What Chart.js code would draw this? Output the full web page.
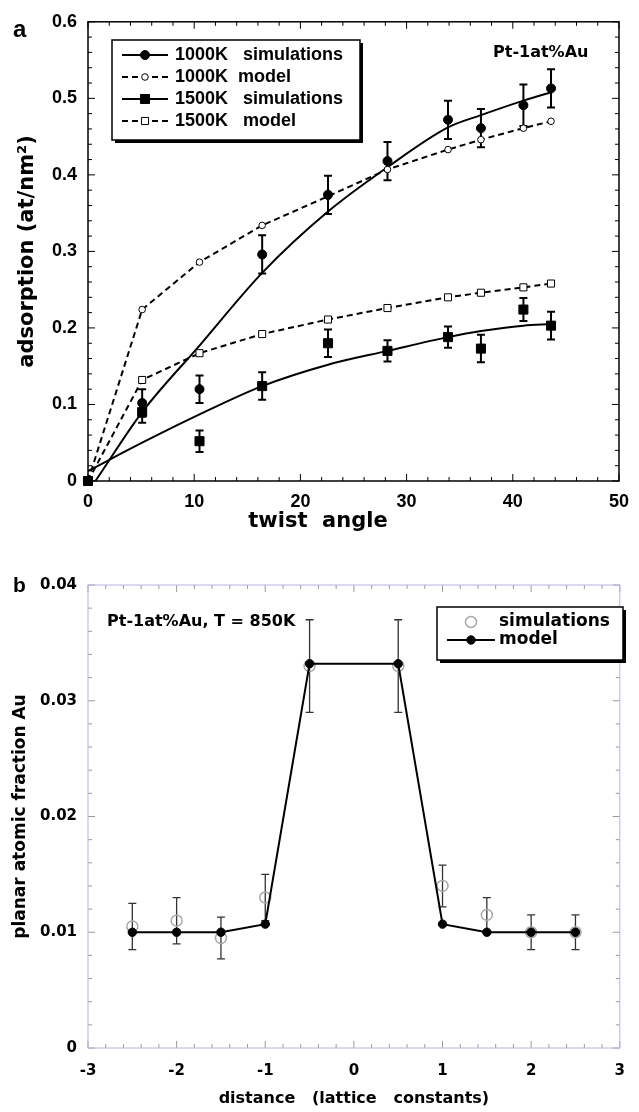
<!DOCTYPE html>
<html>
<head>
<meta charset="utf-8">
<script src="https://cdn.jsdelivr.net/npm/chart.js@4.4.1/dist/chart.umd.min.js"></script>
<style>
  body { margin: 0; background: #fff; }
  #wrapA { position: absolute; left: 0; top: 0; width: 639px; height: 540px; }
  #wrapB { position: absolute; left: 0; top: 540px; width: 639px; height: 572px; }
</style>
</head>
<body>
<div id="wrapA"><canvas id="chartA"></canvas></div>
<div id="wrapB"><canvas id="chartB"></canvas></div>
<script>
// panel a: adsorption vs twist angle
const twistAngles = [0, 5.1, 10.5, 16.4, 22.6, 28.2, 33.9, 37.0, 41.0, 43.6];
const sim1000 = [0, 0.102, 0.120, 0.296, 0.374, 0.418, 0.472, 0.461, 0.491, 0.513];
const sim1000Err = [0, 0.018, 0.018, 0.025, 0.025, 0.025, 0.025, 0.025, 0.027, 0.025];
const model1000 = [0, 0.224, 0.286, 0.334, 0.372, 0.407, 0.433, 0.446, 0.461, 0.470];
const sim1500 = [0, 0.090, 0.052, 0.124, 0.180, 0.170, 0.188, 0.173, 0.224, 0.203];
const sim1500Err = [0, 0.014, 0.014, 0.018, 0.018, 0.014, 0.014, 0.018, 0.015, 0.018];
const model1500 = [0, 0.132, 0.167, 0.192, 0.211, 0.226, 0.240, 0.246, 0.253, 0.258];
// smooth curves drawn through the simulations
const fit1000Angles = [0.7, 5.1, 10.5, 16.4, 22.6, 28.2, 33.9, 37.0, 41.0, 43.6];
const fit1000 = [0, 0.090, 0.177, 0.272, 0.352, 0.410, 0.462, 0.478, 0.497, 0.508];
const fit1500Angles = [0, 5.1, 10.5, 16.4, 22.6, 28.2, 33.9, 37.0, 41.0, 43.6];
const fit1500 = [0.013, 0.050, 0.087, 0.124, 0.152, 0.170, 0.188, 0.196, 0.203, 0.205];

// panel b: planar Au fraction vs distance
const distances = [-2.5, -2, -1.5, -1, -0.5, 0.5, 1, 1.5, 2, 2.5];
const simFraction = [0.0105, 0.0110, 0.0095, 0.0130, 0.0330, 0.0330, 0.0140, 0.0115, 0.0100, 0.0100];
const simFractionErr = [0.0020, 0.0020, 0.0018, 0.0020, 0.0040, 0.0040, 0.0018, 0.0015, 0.0015, 0.0015];
const modelFraction = [0.0100, 0.0100, 0.0100, 0.0107, 0.0332, 0.0332, 0.0107, 0.0100, 0.0100, 0.0100];

const pts = (xs, ys) => xs.map((x, i) => ({ x: x, y: ys[i] }));

const helv = (size) => ({ family: "'Liberation Sans'", size: size, weight: 'bold' });
const deja = (size) => ({ family: "'DejaVu Sans'", size: size, weight: 'bold' });

// vertical error bars with caps
const errorBars = {
    id: 'errorBars',
    beforeDatasetsDraw(chart, args, opts) {
        const { ctx, scales: { x, y } } = chart;
        ctx.save();
        ctx.strokeStyle = opts.color;
        ctx.lineWidth = opts.width;
        opts.sets.forEach(set => {
            chart.data.datasets[set.dataset].data.forEach((p, i) => {
                const e = set.errors[i];
                if (!e) return;
                const px = x.getPixelForValue(p.x);
                const top = y.getPixelForValue(p.y + e);
                const bot = y.getPixelForValue(p.y - e);
                ctx.beginPath();
                ctx.moveTo(px, top); ctx.lineTo(px, bot);
                ctx.moveTo(px - opts.cap, top); ctx.lineTo(px + opts.cap, top);
                ctx.moveTo(px - opts.cap, bot); ctx.lineTo(px + opts.cap, bot);
                ctx.stroke();
            });
        });
        ctx.restore();
    }
};

// box frame with inward ticks on all four sides
const frameTicks = {
    id: 'frameTicks',
    afterDatasetsDraw(chart, args, opts) {
        const { ctx, chartArea: a, scales: { x, y } } = chart;
        ctx.save();
        ctx.strokeStyle = opts.tickColor;
        ctx.lineWidth = 1;
        ctx.beginPath();
        let n = Math.round((x.max - x.min) / opts.xMinor);
        for (let i = 0; i <= n; i++) {
            const px = x.getPixelForValue(x.min + i * opts.xMinor);
            const len = i % opts.every === 0 ? opts.major : opts.minor;
            ctx.moveTo(px, a.bottom); ctx.lineTo(px, a.bottom - len);
            ctx.moveTo(px, a.top); ctx.lineTo(px, a.top + len);
        }
        n = Math.round((y.max - y.min) / opts.yMinor);
        for (let i = 0; i <= n; i++) {
            const py = y.getPixelForValue(y.min + i * opts.yMinor);
            const len = i % opts.every === 0 ? opts.major : opts.minor;
            ctx.moveTo(a.left, py); ctx.lineTo(a.left + len, py);
            ctx.moveTo(a.right, py); ctx.lineTo(a.right - len, py);
        }
        ctx.stroke();
        ctx.strokeStyle = opts.frameColor;
        ctx.lineWidth = opts.frameWidth;
        ctx.strokeRect(a.left, a.top, a.right - a.left, a.bottom - a.top);
        ctx.restore();
    }
};

// panel letters, labels and the boxed legend
const annotate = {
    id: 'annotate',
    afterDraw(chart, args, opts) {
        const ctx = chart.ctx;
        ctx.save();
        opts.texts.forEach(t => {
            ctx.fillStyle = '#000';
            ctx.font = t.font;
            ctx.textAlign = t.align || 'left';
            ctx.textBaseline = 'alphabetic';
            ctx.fillText(t.text, t.x, t.y);
        });
        const lg = opts.legend;
        ctx.fillStyle = '#000';
        ctx.fillRect(lg.left + lg.shadow, lg.top + lg.shadow, lg.width, lg.height);
        ctx.fillStyle = '#fff';
        ctx.fillRect(lg.left, lg.top, lg.width, lg.height);
        ctx.strokeStyle = '#000';
        ctx.lineWidth = 1.5;
        ctx.strokeRect(lg.left, lg.top, lg.width, lg.height);
        lg.items.forEach((it, i) => {
            const yy = lg.top + lg.firstRow + i * lg.rowStep;
            const ds = chart.data.datasets[it.dataset];
            if (it.line) {
                ctx.strokeStyle = '#000';
                ctx.lineWidth = 2;
                ctx.setLineDash(it.dash || []);
                ctx.beginPath();
                ctx.moveTo(lg.lineFrom, yy);
                ctx.lineTo(lg.lineTo, yy);
                ctx.stroke();
                ctx.setLineDash([]);
            }
            ctx.fillStyle = ds.backgroundColor;
            ctx.strokeStyle = ds.pointBorderColor;
            ctx.lineWidth = ds.pointBorderWidth;
            Chart.helpers.drawPoint(ctx, {
                pointStyle: ds.pointStyle, radius: ds.pointRadius,
                borderWidth: ds.pointBorderWidth, rotation: 0
            }, (lg.lineFrom + lg.lineTo) / 2, yy);
            ctx.fillStyle = '#000';
            ctx.font = lg.font;
            ctx.textAlign = 'left';
            ctx.textBaseline = 'middle';
            ctx.fillText(it.text, lg.textX, yy);
        });
        ctx.restore();
    }
};

Chart.defaults.color = '#000';

// Panel a
new Chart(document.getElementById('chartA'), {
    type: 'scatter',
    data: {
        datasets: [{
            label: '1000K simulations',
            data: pts(twistAngles, sim1000),
            pointStyle: 'circle', pointRadius: 4.5,
            backgroundColor: '#000', pointBorderColor: '#000', pointBorderWidth: 1,
            clip: false
        }, {
            label: '1500K simulations',
            data: pts(twistAngles, sim1500),
            pointStyle: 'rect', pointRadius: 6.4,
            backgroundColor: '#000', pointBorderColor: '#000', pointBorderWidth: 1,
            clip: false
        }, {
            label: '1000K model',
            data: pts(twistAngles, model1000),
            showLine: true, borderColor: '#000', borderWidth: 2, borderDash: [6, 4],
            pointStyle: 'circle', pointRadius: 3.3,
            backgroundColor: '#fff', pointBorderColor: '#000', pointBorderWidth: 1,
            clip: false
        }, {
            label: '1500K model',
            data: pts(twistAngles, model1500),
            showLine: true, borderColor: '#000', borderWidth: 2, borderDash: [6, 4],
            pointStyle: 'rect', pointRadius: 5,
            backgroundColor: '#fff', pointBorderColor: '#000', pointBorderWidth: 1,
            clip: false
        }, {
            label: '1000K fit',
            data: pts(fit1000Angles, fit1000),
            showLine: true, borderColor: '#000', borderWidth: 2,
            cubicInterpolationMode: 'monotone', pointRadius: 0,
            clip: false
        }, {
            label: '1500K fit',
            data: pts(fit1500Angles, fit1500),
            showLine: true, borderColor: '#000', borderWidth: 2,
            cubicInterpolationMode: 'monotone', pointRadius: 0,
            clip: false
        }]
    },
    options: {
        responsive: true,
        maintainAspectRatio: false,
        animation: false,
        events: [],
        layout: { padding: { top: 21, right: 11, left: 0, bottom: 0 } },
        plugins: {
            legend: { display: false },
            tooltip: { enabled: false },
            errorBars: {
                color: '#000', width: 2, cap: 4,
                sets: [{ dataset: 0, errors: sim1000Err }, { dataset: 1, errors: sim1500Err }]
            },
            frameTicks: {
                xMinor: 2, yMinor: 0.02, every: 5, major: 7, minor: 4,
                tickColor: '#000', frameColor: '#000', frameWidth: 1.5
            },
            annotate: {
                texts: [
                    { text: 'a', x: 13, y: 37, font: "bold 24px 'Liberation Sans'" },
                    { text: 'Pt-1at%Au', x: 493, y: 57, font: "bold 16px 'DejaVu Sans'" },
                    { text: 'twist  angle', x: 318, y: 527, align: 'center', font: "bold 21px 'DejaVu Sans'" }
                ],
                legend: {
                    left: 112, top: 40, width: 248, height: 100, shadow: 3,
                    firstRow: 15, rowStep: 22, lineFrom: 122, lineTo: 168, textX: 175,
                    font: "bold 18px 'Liberation Sans'",
                    items: [
                        { text: '1000K   simulations', dataset: 0, line: true },
                        { text: '1000K  model', dataset: 2, line: true, dash: [6, 4] },
                        { text: '1500K   simulations', dataset: 1, line: true },
                        { text: '1500K   model', dataset: 3, line: true, dash: [6, 4] }
                    ]
                }
            }
        },
        scales: {
            x: {
                type: 'linear', min: 0, max: 50,
                afterFit: s => { s.height = 59; },
                grid: { display: false, drawTicks: false },
                border: { display: false },
                ticks: { stepSize: 10, padding: 10, autoSkip: false, maxRotation: 0, font: helv(18), color: '#000' }
            },
            y: {
                type: 'linear', min: 0, max: 0.6,
                afterFit: s => { s.width = 88; },
                grid: { display: false, drawTicks: false },
                border: { display: false },
                ticks: { stepSize: 0.1, padding: 11, autoSkip: false, font: helv(18), color: '#000' },
                title: {
                    display: true, text: 'adsorption (at/nm²)',
                    font: deja(21), padding: { top: 15, bottom: 0 }, color: '#000'
                }
            }
        }
    },
    plugins: [errorBars, frameTicks, annotate]
});

// Panel b
new Chart(document.getElementById('chartB'), {
    type: 'scatter',
    data: {
        datasets: [{
            label: 'model',
            data: pts(distances, modelFraction),
            showLine: true, borderColor: '#000', borderWidth: 2,
            pointStyle: 'circle', pointRadius: 4.2,
            backgroundColor: '#000', pointBorderColor: '#000', pointBorderWidth: 1,
            clip: false
        }, {
            label: 'simulations',
            data: pts(distances, simFraction),
            pointStyle: 'circle', pointRadius: 5.5,
            backgroundColor: 'rgba(0,0,0,0)', pointBorderColor: '#a8a8a8', pointBorderWidth: 1.5,
            clip: false
        }]
    },
    options: {
        responsive: true,
        maintainAspectRatio: false,
        animation: false,
        events: [],
        layout: { padding: { top: 45, right: 7, left: 0, bottom: 0 } },
        plugins: {
            legend: { display: false },
            tooltip: { enabled: false },
            errorBars: {
                color: '#333', width: 1.3, cap: 4,
                sets: [{ dataset: 1, errors: simFractionErr }]
            },
            frameTicks: {
                xMinor: 0.2, yMinor: 0.002, every: 5, major: 7, minor: 4,
                tickColor: '#9a9a9a', frameColor: '#b4b4ea', frameWidth: 1
            },
            annotate: {
                texts: [
                    { text: 'b', x: 13, y: 52, font: "bold 21px 'Liberation Sans'" },
                    { text: 'Pt-1at%Au, T = 850K', x: 107, y: 86, font: "bold 16px 'DejaVu Sans'" }
                ],
                legend: {
                    left: 437, top: 67, width: 186, height: 53, shadow: 3,
                    firstRow: 15, rowStep: 18, lineFrom: 447, lineTo: 495, textX: 499,
                    font: "bold 17px 'DejaVu Sans'",
                    items: [
                        { text: 'simulations', dataset: 1, line: false },
                        { text: 'model', dataset: 0, line: true }
                    ]
                }
            }
        },
        scales: {
            x: {
                type: 'linear', min: -3, max: 3,
                afterFit: s => { s.height = 64; },
                grid: { display: false, drawTicks: false },
                border: { display: false },
                ticks: { stepSize: 1, padding: 14, autoSkip: false, maxRotation: 0, font: deja(15), color: '#000' },
                title: {
                    display: true, text: 'distance   (lattice   constants)',
                    font: deja(16), padding: { top: 0, bottom: 4 }, color: '#000'
                }
            },
            y: {
                type: 'linear', min: 0, max: 0.04,
                afterFit: s => { s.width = 88; },
                grid: { display: false, drawTicks: false },
                border: { display: false },
                ticks: { stepSize: 0.01, padding: 11, autoSkip: false, font: deja(15), color: '#000' },
                title: {
                    display: true, text: 'planar atomic fraction Au',
                    font: deja(17), padding: { top: 10, bottom: 0 }, color: '#000'
                }
            }
        }
    },
    plugins: [errorBars, frameTicks, annotate]
});
</script>
</body>
</html>
